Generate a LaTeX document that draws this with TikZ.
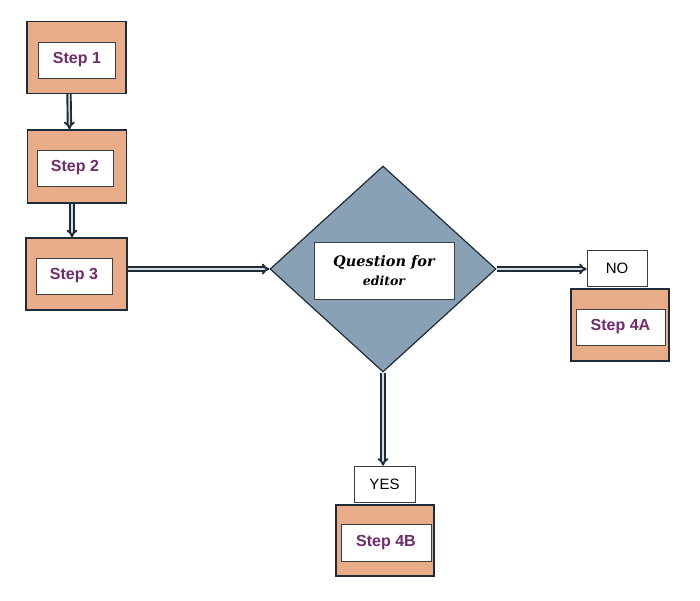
\documentclass[tikz,border=0pt]{standalone}
\usepackage{fontspec}
\setsansfont{Liberation Sans}
\newfontfamily\handfont{DejaVu Serif}
\usetikzlibrary{positioning,arrows.meta,shapes.geometric}
\definecolor{edge}{HTML}{1E2B38}
\definecolor{frame}{HTML}{3A3F45}
\definecolor{salmon}{HTML}{E9AC88}
\definecolor{slate}{HTML}{89A1B4}
\definecolor{stepink}{HTML}{702B6B}
\definecolor{core}{HTML}{D5DDE4}

\begin{document}
\begin{tikzpicture}[
  x=1pt, y=-1pt,
  font=\sffamily,
  outer/.style  = {draw=edge, line width=1.4pt, fill=salmon, inner sep=0pt,
                   minimum width=99pt, minimum height=72pt},
  inbox/.style  = {draw=frame, line width=0.6pt, fill=white, inner sep=0pt,
                   minimum width=77pt, minimum height=36pt, text=stepink,
                   font=\sffamily\bfseries\fontsize{16}{18}\selectfont},
  tag/.style    = {draw=frame, line width=0.6pt, fill=white, inner sep=0pt,
                   minimum width=60pt, minimum height=36pt,
                   font=\sffamily\fontsize{15}{17}\selectfont},
  decide/.style = {diamond, draw=edge, line width=1.2pt, fill=slate, inner sep=0pt,
                   minimum width=226pt, minimum height=206pt},
  arr/.style    = {draw=edge, double=core, line width=1.9pt, double distance=1.5pt,
                   -{Implies}},
]
\useasboundingbox (0,0) rectangle (700,600);

% ---------- left column ----------
\node[outer] (step1) at (76.5,57.5) {};
\node[inbox] (step1in) at (77,60) {Step 1};
\node[outer, minimum height=73pt] (step2) at (77,166.5) {};
\node[inbox, minimum width=76pt] (step2in) at (75,168) {Step 2};
\node[outer, minimum width=101pt] (step3) at (76.5,274) {};
\node[inbox, minimum width=76pt] (step3in) at (74,276) {Step 3};

% ---------- decision ----------
\node[decide] (question) at (383,269) {};
\node[draw=frame, line width=0.6pt, fill=white, minimum width=140pt, minimum height=57pt,
      align=center, inner sep=0pt, font=\handfont\bfseries\itshape] (qbox) at (384,270.5)
  {{\fontsize{14.5}{18}\selectfont Question for}\\[6pt]{\fontsize{12.5}{14}\selectfont editor}};

% ---------- outcomes ----------
\node[tag] (no) at (617,268) {NO};
\node[outer, minimum width=98pt] (step4a) at (620,325) {};
\node[inbox, minimum width=89pt] (step4ain) at (620.5,327) {Step 4A};

\node[tag, minimum width=61pt] (yes) at (384.5,484) {YES};
\node[outer, minimum width=98pt, minimum height=71pt] (step4b) at (385,540.5) {};
\node[inbox, minimum width=90pt, minimum height=37pt] (step4bin) at (386,542.5) {Step 4B};

% ---------- arrows ----------
\draw[arr] ([xshift=-7.5pt]step1.south) -- ([xshift=-7.5pt]step2.north);
\draw[arr] ([xshift=-5pt]step2.south) -- ([xshift=-4.5pt]step3.north);
\draw[arr] (step3.east |- question.west) -- (question.west);
\draw[arr] (question.east) -- (no.west |- question.east);
\draw[arr] (question.south) -- (yes.north -| question.south);

\end{tikzpicture}
\end{document}
